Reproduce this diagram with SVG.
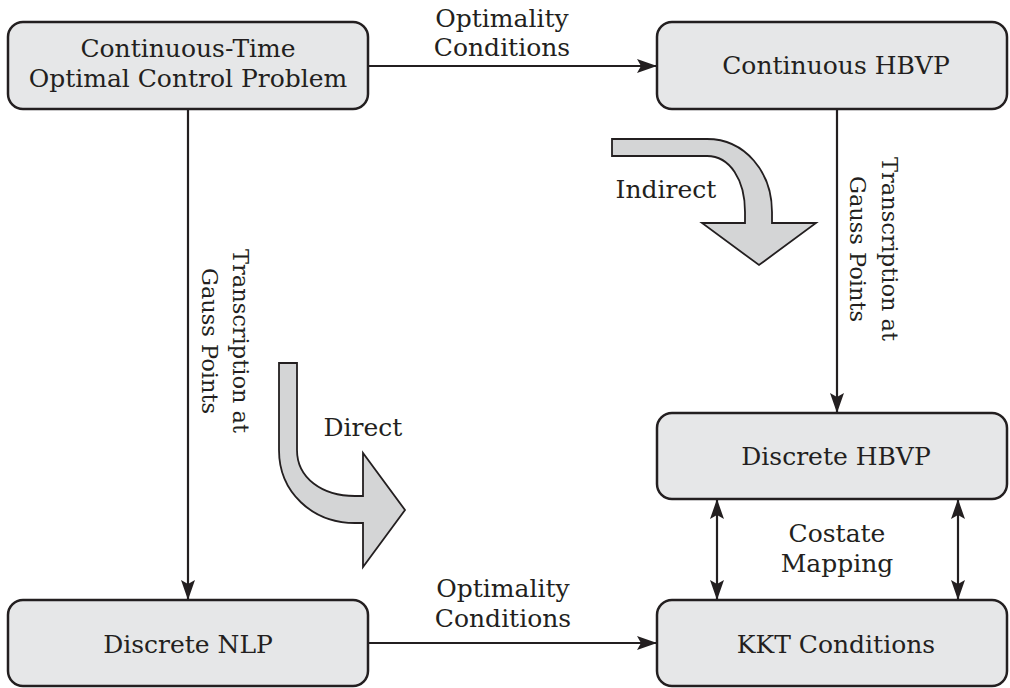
<svg xmlns="http://www.w3.org/2000/svg" width="1010" height="688" viewBox="0 0 1010 688">
<style>
.box{fill:#e6e7e8;stroke:#231f20;stroke-width:2.5}
.t{font-family:"DejaVu Serif","Liberation Serif",serif;font-size:25px;fill:#231f20;text-anchor:middle}
.v{font-size:22.5px}
.ln{stroke:#231f20;stroke-width:2.2;fill:none}
.big{fill:#d4d5d6;stroke:#231f20;stroke-width:1.8;stroke-linejoin:miter}
</style>
<defs>
<marker id="ah" markerWidth="20" markerHeight="14" refX="20" refY="7" orient="auto" markerUnits="userSpaceOnUse">
<path d="M0,0 L20,7 L0,14 L4,7 Z" fill="#231f20"/>
</marker>
<marker id="as" markerWidth="20" markerHeight="14" refX="0" refY="7" orient="auto" markerUnits="userSpaceOnUse">
<path d="M20,0 L0,7 L20,14 L16,7 Z" fill="#231f20"/>
</marker>
</defs>
<rect width="1010" height="688" fill="#ffffff"/>
<g id="connectors">
<line class="ln" x1="368" y1="66" x2="657" y2="66" marker-end="url(#ah)"/>
<line class="ln" x1="188" y1="109" x2="188" y2="600" marker-end="url(#ah)"/>
<line class="ln" x1="837" y1="109" x2="837" y2="413" marker-end="url(#ah)"/>
<line class="ln" x1="368" y1="643" x2="657" y2="643" marker-end="url(#ah)"/>
<line class="ln" x1="717" y1="499" x2="717" y2="600" marker-start="url(#as)" marker-end="url(#ah)"/>
<line class="ln" x1="958" y1="499" x2="958" y2="600" marker-start="url(#as)" marker-end="url(#ah)"/>
<text class="t" x="502" y="27">Optimality</text>
<text class="t" x="502" y="56">Conditions</text>
<text class="t" x="503" y="597">Optimality</text>
<text class="t" x="503" y="627">Conditions</text>
<text class="t" x="837" y="542">Costate</text>
<text class="t" x="837" y="572">Mapping</text>
<g transform="translate(233,341) rotate(90)"><text class="t v" x="0" y="0">Transcription at</text><text class="t v" x="0" y="31">Gauss Points</text></g>
<g transform="translate(882,249) rotate(90)"><text class="t v" x="0" y="0">Transcription at</text><text class="t v" x="0" y="32">Gauss Points</text></g>
</g>
<g id="indirect">
<path class="big" d="M612,139 L707,139 C745,139 772,172 772,212 L772,223 L816,223 L759,265 L702,223 L745,223 L745,212 C745,180 730,156 707,156 L612,156 Z"/>
<text class="t" x="666" y="198">Indirect</text>
</g>
<g id="direct">
<path class="big" d="M279,363 L297,363 L297,450 C297,478 322,496 355,496 L363,496 L363,453 L405,510 L363,567 L363,523 L355,523 C312,523 279,492 279,450 Z"/>
<text class="t" x="363" y="436">Direct</text>
</g>
<g id="n1"><rect class="box" x="8" y="22" width="360" height="87" rx="15"/><text class="t" x="188" y="57">Continuous-Time</text><text class="t" x="188" y="87">Optimal Control Problem</text></g>
<g id="n2"><rect class="box" x="657" y="22" width="350" height="87" rx="15"/><text class="t" x="836" y="74">Continuous HBVP</text></g>
<g id="n3"><rect class="box" x="657" y="413" width="350" height="86" rx="15"/><text class="t" x="836" y="465">Discrete HBVP</text></g>
<g id="n4"><rect class="box" x="657" y="600" width="350" height="86" rx="15"/><text class="t" x="836" y="653">KKT Conditions</text></g>
<g id="n5"><rect class="box" x="8" y="600" width="360" height="86" rx="15"/><text class="t" x="188" y="653">Discrete NLP</text></g>
</svg>
